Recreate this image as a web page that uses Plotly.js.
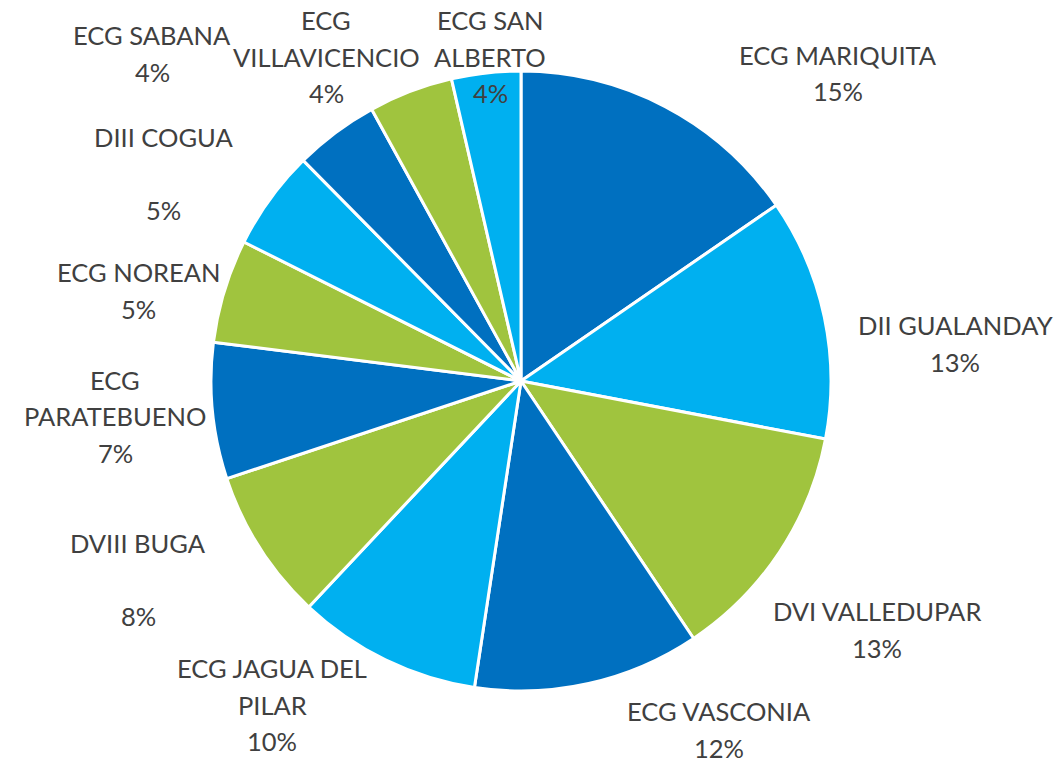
<!DOCTYPE html>
<html>
<head>
<meta charset="utf-8">
<script src="https://cdn.plot.ly/plotly-3.0.1.min.js"></script>
<style>html,body{margin:0;padding:0;background:#fff;}#chart{width:1058px;height:763px;}</style>
</head>
<body>
<div id="chart"></div>
<script>
// Data
const categories = ["ECG MARIQUITA", "DII GUALANDAY", "DVI VALLEDUPAR", "ECG VASCONIA",
  "ECG JAGUA DEL PILAR", "DVIII BUGA", "ECG PARATEBUENO", "ECG NOREAN",
  "DIII COGUA", "ECG SABANA", "ECG VILLAVICENCIO", "ECG SAN ALBERTO"];
const values = [15.4, 12.6, 12.6, 11.8, 9.6, 7.9, 7.1, 5.4, 5.2, 4.4, 4.4, 3.6];
const labelLines = [["ECG MARIQUITA"], ["DII GUALANDAY"], ["DVI VALLEDUPAR"], ["ECG VASCONIA"],
  ["ECG JAGUA DEL", "PILAR"], ["DVIII BUGA", ""], ["ECG", "PARATEBUENO"], ["ECG NOREAN"],
  ["DIII COGUA", ""], ["ECG SABANA"], ["ECG", "VILLAVICENCIO"], ["ECG SAN", "ALBERTO"]];

// Layout / style (label anchor positions in pixels: x center, y of first line)
const W = 1058, H = 763;
const labelAnchor = [[838, 55], [955, 325], [877, 611], [719, 711], [272, 668], [138, 543],
  [115, 380], [138, 272], [163, 137], [152, 35], [326, 20], [490, 20]];
const DARK = "#0070C0", LIGHT = "#00B0F0", GREEN = "#A0C43E";
const sliceColors = [DARK, LIGHT, GREEN, DARK, LIGHT, GREEN, DARK, GREEN, LIGHT, DARK, GREEN, LIGHT];
const lineStep = 36.5;
const fontFamily = "Lato, 'Open Sans', sans-serif";
const fontSize = 25.5;

const total = values.reduce((a, b) => a + b, 0);
const annotations = [];
categories.forEach((c, i) => {
  const lines = labelLines[i].concat([Math.round(values[i] / total * 100) + "%"]);
  const [px, py] = labelAnchor[i];
  lines.forEach((t, j) => {
    if (!t) return;
    annotations.push({
      xref: "paper", yref: "paper",
      x: px / W, y: 1 - (py + j * lineStep) / H,
      xanchor: "center", yanchor: "middle",
      text: t, showarrow: false, borderpad: 0,
      font: {family: fontFamily, size: fontSize, color: "#404040"}
    });
  });
});

const trace = {
  type: "pie",
  labels: categories,
  values: values,
  sort: false,
  direction: "clockwise",
  rotation: 0,
  textinfo: "none",
  hoverinfo: "label+percent",
  marker: {colors: sliceColors, line: {color: "#ffffff", width: 3}},
  domain: {x: [211 / W, 831 / W], y: [1 - 691 / H, 1 - 71 / H]},
  showlegend: false
};

Plotly.newPlot("chart", [trace], {
  width: W, height: H,
  margin: {l: 0, r: 0, t: 0, b: 0},
  paper_bgcolor: "#ffffff",
  showlegend: false,
  annotations: annotations
}, {displayModeBar: false, staticPlot: true});
</script>
</body>
</html>
